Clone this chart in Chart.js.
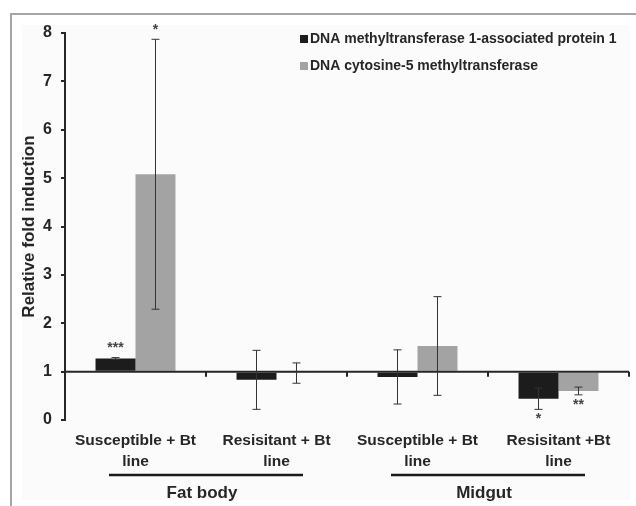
<!DOCTYPE html>
<html>
<head>
<meta charset="utf-8">
<script src="https://cdn.jsdelivr.net/npm/chart.js@4"></script>
<style>
    body { margin: 0; background: #fff; }
    #wrap { width: 636px; height: 506px; position: relative; }
</style>
</head>
<body>
<div id="wrap"><canvas id="chart"></canvas></div>
<script>
const categories = [
    ['Susceptible + Bt', 'line'],
    ['Resisitant + Bt', 'line'],
    ['Susceptible + Bt', 'line'],
    ['Resisitant +Bt', 'line'],
];
const groups = ['Fat body', 'Midgut'];
const groupSpans = [[0, 1], [2, 3]];

const seriesNames = ['DNA methyltransferase 1-associated protein 1', 'DNA cytosine-5 methyltransferase'];
const dmapValues = [1.27, 0.83, 0.89, 0.44];
const dmapErrors = [0.02, 0.61, 0.56, 0.22];
const dmapStars = ['***', '', '', '*'];
const dnmtValues = [5.08, 0.97, 1.53, 0.60];
const dnmtErrors = [2.79, 0.21, 1.02, 0.08];
const dnmtStars = ['*', '', '', '**'];

const yTickValues = [0, 1, 2, 3, 4, 5, 6, 7, 8];
const baseline = 1;

const FONT = "'Liberation Sans', Arial, sans-serif";
const INK = '#262626';

// page frame and the light panel behind the plot
const framePlugin = {
    id: 'frame',
    beforeDraw(chart) {
        const ctx = chart.ctx;
        ctx.save();
        ctx.fillStyle = '#fff';
        ctx.fillRect(0, 0, chart.width, chart.height);
        ctx.fillStyle = '#fbfbfb';
        ctx.fillRect(22, 25, chart.width - 28, chart.height - 31);
        ctx.strokeStyle = '#a6a6a6';
        ctx.lineWidth = 2;
        ctx.beginPath();
        ctx.moveTo(chart.width, 14);
        ctx.lineTo(11, 14);
        ctx.lineTo(11, chart.height);
        ctx.stroke();
        ctx.restore();
    }
};

// axis line at y = 1, error bars and significance stars
const marksPlugin = {
    id: 'marks',
    afterDatasetsDraw(chart) {
        const ctx = chart.ctx;
        const x = chart.scales.x;
        const y = chart.scales.y;
        const area = chart.chartArea;
        const y1 = y.getPixelForValue(baseline);

        ctx.save();
        ctx.strokeStyle = INK;
        ctx.lineWidth = 2;
        ctx.beginPath();
        ctx.moveTo(area.left, y1);
        ctx.lineTo(area.right, y1);
        ctx.stroke();

        // small ticks between categories
        const step = x.getPixelForValue(1) - x.getPixelForValue(0);
        for (let i = 0; i < categories.length; i++) {
            const bx = x.getPixelForValue(i) + step / 2;
            ctx.beginPath();
            ctx.moveTo(bx, y1);
            ctx.lineTo(bx, y1 + 5);
            ctx.stroke();
        }

        const errs = [dmapErrors, dnmtErrors];
        const stars = [dmapStars, dnmtStars];
        chart.data.datasets.forEach((ds, d) => {
            const meta = chart.getDatasetMeta(d);
            meta.data.forEach((bar, i) => {
                const v = ds.data[i];
                const e = errs[d][i];
                const top = y.getPixelForValue(v + e);
                const bot = y.getPixelForValue(v - e);
                ctx.strokeStyle = '#333';
                ctx.lineWidth = 1;
                ctx.beginPath();
                ctx.moveTo(bar.x, top);
                ctx.lineTo(bar.x, bot);
                ctx.moveTo(bar.x - 4, top);
                ctx.lineTo(bar.x + 4, top);
                ctx.moveTo(bar.x - 4, bot);
                ctx.lineTo(bar.x + 4, bot);
                ctx.stroke();

                const s = stars[d][i];
                if (s) {
                    ctx.fillStyle = '#444';
                    ctx.font = 'bold 14px ' + FONT;
                    ctx.textAlign = 'center';
                    ctx.textBaseline = 'middle';
                    const sy = v >= baseline ? top - 9 : bot + 10;
                    ctx.fillText(s, bar.x, sy);
                }
            });
        });
        ctx.restore();
    },
    afterDraw(chart) {
        const ctx = chart.ctx;
        const x = chart.scales.x;
        ctx.save();

        // legend in the upper right of the plot
        const colors = chart.data.datasets.map(ds => ds.backgroundColor);
        ctx.font = 'bold 14px ' + FONT;
        ctx.textAlign = 'left';
        ctx.textBaseline = 'middle';
        seriesNames.forEach((name, i) => {
            const ly = 39 + i * 27;
            ctx.fillStyle = colors[i];
            ctx.fillRect(300, ly - 4, 8, 8);
            ctx.fillStyle = INK;
            ctx.fillText(name, 310, ly);
        });

        // tissue groups under the category labels
        ctx.font = 'bold 17px ' + FONT;
        ctx.textAlign = 'center';
        groups.forEach((g, k) => {
            const [a, b] = groupSpans[k];
            const mid = (x.getPixelForValue(a) + x.getPixelForValue(b)) / 2;
            ctx.strokeStyle = '#1a1a1a';
            ctx.lineWidth = 2.5;
            ctx.beginPath();
            ctx.moveTo(mid - 97, 475);
            ctx.lineTo(mid + 97, 475);
            ctx.stroke();
            ctx.fillStyle = INK;
            ctx.fillText(g, mid - 4, 493);
        });
        ctx.restore();
    }
};

new Chart(document.getElementById('chart'), {
    type: 'bar',
    data: {
        labels: categories,
        datasets: [
            {
                label: seriesNames[0],
                data: dmapValues,
                base: baseline,
                backgroundColor: '#1c1c1c',
            },
            {
                label: seriesNames[1],
                data: dnmtValues,
                base: baseline,
                backgroundColor: '#a3a3a3',
            },
        ],
    },
    options: {
        responsive: true,
        maintainAspectRatio: false,
        animation: false,
        categoryPercentage: 0.567,
        barPercentage: 1.0,
        layout: { padding: { left: 14, right: 7, top: 33, bottom: 0 } },
        plugins: {
            legend: { display: false },
            tooltip: { enabled: false },
        },
        scales: {
            x: {
                grid: { display: false },
                border: { display: false },
                ticks: {
                    color: INK,
                    font: { family: FONT, size: 15.5, weight: 'bold', lineHeight: 1.3 },
                    padding: 3,
                    maxRotation: 0,
                    autoSkip: false,
                },
                afterFit(scale) { scale.height = 86; },
            },
            y: {
                min: 0,
                max: 8,
                afterBuildTicks(scale) {
                    scale.ticks = yTickValues.map(v => ({ value: v }));
                },
                grid: {
                    drawOnChartArea: false,
                    drawTicks: true,
                    tickLength: 4,
                    color: INK,
                    lineWidth: 2,
                },
                border: { display: true, color: INK, width: 2 },
                ticks: {
                    color: INK,
                    font: { family: FONT, size: 16, weight: 'bold' },
                    padding: 9,
                },
                title: {
                    display: true,
                    text: 'Relative fold induction',
                    color: INK,
                    font: { family: FONT, size: 17, weight: 'bold' },
                    padding: { top: 5, bottom: 0 },
                },
                afterFit(scale) { scale.width = 51; },
            },
        },
    },
    plugins: [framePlugin, marksPlugin],
});
</script>
</body>
</html>
